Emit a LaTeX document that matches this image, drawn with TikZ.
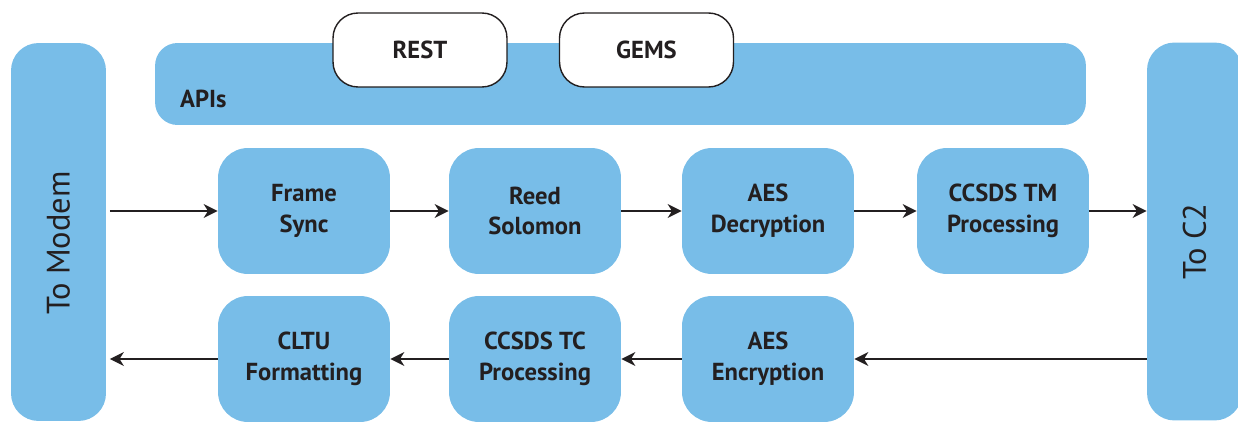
\documentclass[tikz,border=0pt]{standalone}
\usepackage{fontspec}
\setmainfont{PT Sans}
\usetikzlibrary{arrows.meta}

\definecolor{boxblue}{RGB}{120,189,232}
\definecolor{ink}{RGB}{35,31,32}

\begin{document}
\begin{tikzpicture}[
		x=0.02cm, y=-0.02cm,
		every node/.style={text=ink, font=\fontsize{14}{17.5}\selectfont\bfseries},
		block/.style={fill=boxblue, rounded corners=0.6cm, align=center,
			minimum width=3.44cm, minimum height=2.52cm, inner sep=0pt},
		side/.style={fill=boxblue, rounded corners=0.55cm,
			minimum width=1.9cm, minimum height=7.56cm, inner sep=0pt,
			font=\fontsize{18.5}{22}\selectfont},
		api/.style={fill=white, draw=ink, line width=0.8pt, rounded corners=0.5cm,
			minimum width=3.48cm, minimum height=1.48cm, inner sep=0pt},
		arrow/.style={-{Stealth[length=8pt, width=8pt, inset=2.5pt]}, draw=ink, line width=0.8pt}
		]
		\useasboundingbox (0,0) rectangle (1238,422);
		
		% -------- Side columns --------
		\node[side] (modem) at (58.5,232) {\rotatebox{90}{To Modem\hspace{0.44cm}}};
		\node[side] (c2) at (1194.5,231.5) {\rotatebox{90}{To C2\hspace{0.4cm}}};
		
		% -------- API bar --------
		\node[fill=boxblue, rounded corners=0.45cm, minimum width=18.62cm,
			minimum height=1.64cm, inner sep=0pt] (apis) at (620.5,84) {};
		\node[anchor=west] (apislbl) at (174,99) {APIs};
		\node[api] (rest) at (420,50) {REST};
		\node[api] (gems) at (646.5,50) {GEMS};
		
		% -------- Downlink chain --------
		\node[block] (fs) at (304,211) {Frame\\Sync};
		\node[block] (rs) at (535,211) {Reed\\Solomon};
		\node[block] (aesd) at (768,211) {AES\\Decryption};
		\node[block] (tm) at (1003,211) {CCSDS TM\\Processing};
		
		% -------- Uplink chain --------
		\node[block] (cltu) at (304,359) {CLTU\\Formatting};
		\node[block] (tc) at (535,359) {CCSDS TC\\Processing};
		\node[block] (aese) at (768,359) {AES\\Encryption};
		
		% ---- Downlink arrows ----
		\draw[arrow] ([xshift=2]modem.east |- fs.west) -- (fs.west);
		\draw[arrow] (fs) -- (rs);
		\draw[arrow] (rs) -- (aesd);
		\draw[arrow] (aesd) -- (tm);
		\draw[arrow] (tm.east) -- (c2.west |- tm.east);
		
		% ---- Uplink arrows ----
		\draw[arrow] (c2.west |- aese.east) -- (aese.east);
		\draw[arrow] (aese) -- (tc);
		\draw[arrow] (tc) -- (cltu);
		\draw[arrow] (cltu.west) -- ([xshift=2]modem.east |- cltu.west);
		
	\end{tikzpicture}
\end{document}
